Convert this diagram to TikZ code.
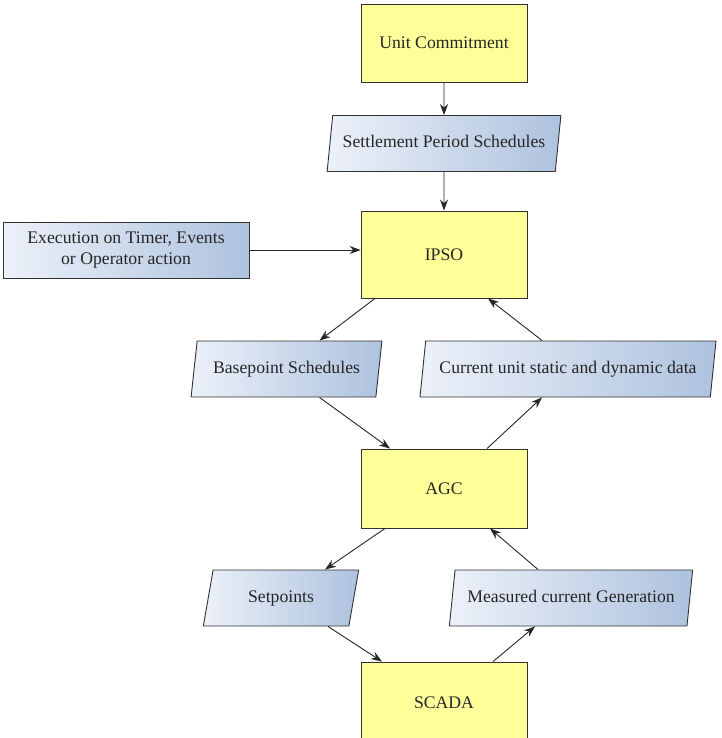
\documentclass[tikz,border=0pt]{standalone}
\usepackage{fontspec}
\setmainfont{Liberation Serif}
\newfontfamily\diagfont{Liberation Serif}
\usepackage{tikz}
\usetikzlibrary{arrows.meta, shapes.geometric, positioning, calc}
\usepackage{xcolor}
\definecolor{procyellow}{RGB}{255,255,153}
\definecolor{datalight}{RGB}{236,241,249}
\definecolor{datablue}{RGB}{174,194,222}
\definecolor{edgegray}{RGB}{50,50,50}

\begin{document}
\begin{tikzpicture}[x=1pt, y=-1pt,
  process/.style={draw=edgegray, line width=0.9pt, fill=procyellow, minimum width=166pt, font=\diagfont\fontsize{17.7}{21}\selectfont, text=black!85},
  data/.style={trapezium, trapezium left angle=77, trapezium right angle=103, trapezium stretches=true, draw=edgegray, line width=0.9pt, left color=datalight, right color=datablue, minimum height=56pt, text height=12pt, text depth=4pt, font=\diagfont\fontsize{17.7}{21}\selectfont, text=black!85},
  trigger/.style={draw=edgegray, line width=0.9pt, left color=datalight, right color=datablue, minimum width=246pt, minimum height=56pt, align=center, font=\diagfont\fontsize{17.7}{21}\selectfont, text=black!85},
  flow/.style={-{Stealth[length=11pt, width=8pt]}, line width=0.9pt, black!85},
]
\clip (0,0) rectangle (721,738);

% Main chain
\node[process, minimum height=78pt] (uc) at (444, 43) {Unit Commitment};
\node[data, minimum width=234pt] (sps) at (444, 143.5) {Settlement Period Schedules};
\node[process, minimum height=87pt] (ipso) at (444, 254.5) {IPSO};
\node[trigger] (exec) at (126, 250) {Execution on Timer, Events\\or Operator action};

% IPSO <-> AGC
\node[data, minimum width=191pt] (bps) at (286.5, 369) {Basepoint Schedules};
\node[data, minimum width=296pt] (cud) at (568, 369) {Current unit static and dynamic data};
\node[process, minimum height=79pt] (agc) at (444, 488.5) {AGC};

% AGC <-> SCADA
\node[data, minimum width=156pt] (spt) at (281, 598) {Setpoints};
\node[data, minimum width=244pt] (mcg) at (571, 598) {Measured current Generation};
\node[process, minimum height=82pt] (scada) at (444, 703) {SCADA};

% Connectors
\draw[flow] (uc) -- (sps);
\draw[flow] (sps) -- (ipso);
\draw[flow] (exec.east) -- (exec.east -| ipso.west);
\draw[flow] ([xshift=-69pt]ipso.south) -- ([xshift=33pt]bps.north);
\draw[flow] ([xshift=33pt]bps.south) -- ([xshift=-54pt]agc.north);
\draw[flow] ([xshift=43pt]agc.north) -- ([xshift=-26pt]cud.south);
\draw[flow] ([xshift=-26pt]cud.north) -- ([xshift=44pt]ipso.south);
\draw[flow] ([xshift=-59pt]agc.south) -- ([xshift=44pt]spt.north);
\draw[flow] ([xshift=47pt]spt.south) -- ([xshift=-62pt]scada.north);
\draw[flow] ([xshift=49pt]scada.north) -- ([xshift=-36pt]mcg.south);
\draw[flow] ([xshift=-33pt]mcg.north) -- ([xshift=46pt]agc.south);
\end{tikzpicture}
\end{document}
